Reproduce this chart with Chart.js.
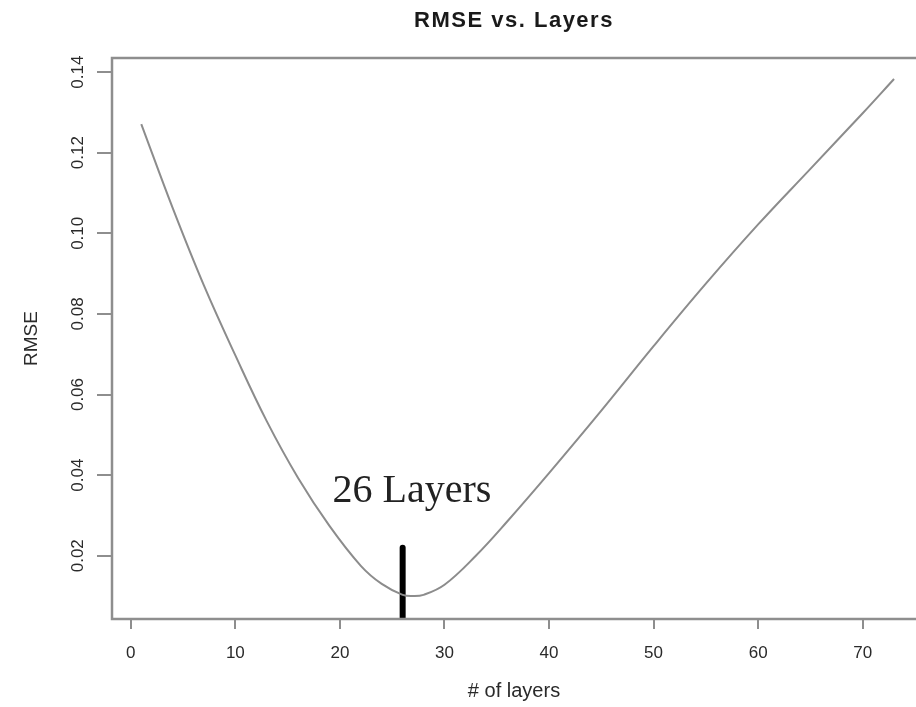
<!DOCTYPE html>
<html>
<head>
<meta charset="utf-8">
<script src="https://cdn.jsdelivr.net/npm/chart.js@4"></script>
<style>
  html, body { margin: 0; padding: 0; background: #fff; }
  #wrap { width: 916px; height: 707px; }
</style>
</head>
<body>
<div id="wrap"><canvas id="chart" width="916" height="707"></canvas></div>
<script>
// Data
const layers = [1, 4, 7, 10, 13, 16, 19, 22, 24, 26, 27, 28, 30, 33, 36, 40, 45, 50, 55, 60, 65, 70, 73];
const rmse = [0.1271, 0.1063, 0.0870, 0.0697, 0.0534, 0.0393, 0.0274, 0.0175, 0.0130, 0.0103, 0.0100, 0.0103, 0.0128,
              0.0200, 0.0285, 0.0405, 0.0560, 0.0720, 0.0875, 0.1022, 0.1160, 0.1298, 0.1383];
const xTicks = [0, 10, 20, 30, 40, 50, 60, 70];
const yTicks = [0.02, 0.04, 0.06, 0.08, 0.10, 0.12, 0.14];

// Marker at the best layer count
const bestLayer = 26;
const markerTop = 0.022;
const markerLabel = '26 Layers';
const markerLabelAt = [19.3, 0.0333];

const X_MIN = -1.8, X_MAX = 75.1;
const Y_MIN = 0.0043, Y_MAX = 0.1435;

const axisColor = '#8e8e8e';
const sans = '"Liberation Sans", Arial, sans-serif';
const tickFont = { family: sans, size: 17 };

// Box round the plot, R style (right side is cut off in the original)
const framePlugin = {
  id: 'frame',
  afterDraw(chart) {
    const { ctx, chartArea: a } = chart;
    ctx.save();
    ctx.strokeStyle = axisColor;
    ctx.lineWidth = 2.5;
    ctx.beginPath();
    ctx.moveTo(a.right + 5, a.top);
    ctx.lineTo(a.left, a.top);
    ctx.lineTo(a.left, a.bottom);
    ctx.lineTo(a.right + 5, a.bottom);
    ctx.stroke();
    ctx.restore();
  }
};

// Title centred over the plot box, and the serif annotation
const textPlugin = {
  id: 'texts',
  afterDraw(chart) {
    const { ctx, chartArea: a, scales } = chart;
    ctx.save();
    ctx.fillStyle = '#1a1a1a';
    ctx.font = 'bold 22px ' + sans;
    ctx.letterSpacing = '1.5px';
    ctx.textAlign = 'center';
    ctx.textBaseline = 'middle';
    ctx.fillText('RMSE vs. Layers', (a.left + a.right) / 2, 21);

    ctx.letterSpacing = '0px';
    ctx.font = '40px "Liberation Serif", "Times New Roman", serif';
    ctx.textAlign = 'left';
    ctx.textBaseline = 'alphabetic';
    ctx.fillStyle = '#222';
    ctx.fillText(markerLabel, scales.x.getPixelForValue(markerLabelAt[0]), scales.y.getPixelForValue(markerLabelAt[1]));
    ctx.restore();
  }
};

const ctx = document.getElementById('chart').getContext('2d');
new Chart(ctx, {
  type: 'line',
  data: {
    datasets: [
      {
        label: 'RMSE',
        data: layers.map((l, i) => ({ x: l, y: rmse[i] })),
        borderColor: '#8c8c8c',
        borderWidth: 2,
        pointRadius: 0,
        tension: 0.4,
        fill: false
      },
      {
        label: 'best',
        data: [{ x: bestLayer, y: Y_MIN }, { x: bestLayer, y: markerTop }],
        borderColor: '#000',
        borderWidth: 6,
        borderCapStyle: 'round',
        pointRadius: 0,
        fill: false
      }
    ]
  },
  options: {
    responsive: false,
    animation: false,
    layout: { padding: { top: 58, right: 0, left: 20, bottom: 0 } },
    plugins: {
      legend: { display: false },
      tooltip: { enabled: false },
      title: { display: false }
    },
    scales: {
      x: {
        type: 'linear',
        min: X_MIN,
        max: X_MAX,
        afterBuildTicks: s => { s.ticks = xTicks.map(v => ({ value: v })); },
        afterFit: s => { s.height = 88; },
        border: { display: false },
        grid: { drawOnChartArea: false, drawTicks: true, tickLength: 10, color: axisColor, lineWidth: 2 },
        ticks: { font: tickFont, color: '#2a2a2a', padding: 14, maxRotation: 0 },
        title: { display: true, text: '# of layers', font: { family: sans, size: 20 }, color: '#2a2a2a', padding: { top: 4, bottom: 4 } }
      },
      y: {
        type: 'linear',
        min: Y_MIN,
        max: Y_MAX,
        afterBuildTicks: s => { s.ticks = yTicks.map(v => ({ value: v })); },
        afterFit: s => { s.width = 92; },
        border: { display: false },
        grid: { drawOnChartArea: false, drawTicks: true, tickLength: 15, color: axisColor, lineWidth: 2 },
        ticks: {
          font: tickFont, color: '#2a2a2a', padding: 2, minRotation: 90, maxRotation: 90,
          crossAlign: 'center',
          callback: v => v.toFixed(2)
        },
        title: { display: true, text: 'RMSE', font: { family: sans, size: 19 }, color: '#2a2a2a', padding: { top: 0, bottom: 0 } }
      }
    }
  },
  plugins: [framePlugin, textPlugin]
});
</script>
</body>
</html>
